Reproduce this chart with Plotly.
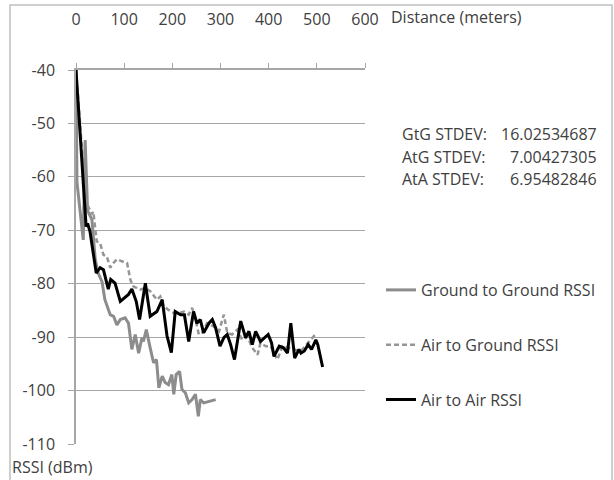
import plotly.graph_objects as go

# ---------------- data ----------------
gtg_dist = [0, 2, 15, 19, 24, 33, 40, 46, 54, 60, 71, 78, 85, 92, 102, 109, 116, 123,
            130, 137, 140, 146, 154, 161, 167, 172, 179, 185, 192, 199, 203, 208, 215,
            220, 227, 234, 241, 248, 254, 258, 265, 290]
gtg_rssi = [-40, -61, -71.8, -53.1, -66.3, -68, -75.5, -78, -79.6, -83, -85.8, -86.1, -87.7,
            -86.7, -86.4, -87.4, -92.3, -89.5, -93, -90.1, -90.8, -88.6, -92, -94.8, -94.2,
            -99.5, -97.3, -98.5, -98.9, -97, -100.7, -97, -96.4, -99.8, -100.4, -102.3,
            -101.7, -100.7, -104.8, -101.7, -102.3, -101.7]

atg_dist = [0, 21, 25, 33, 36, 43, 50, 57, 64, 71, 78, 85, 95, 106, 113, 119, 133, 144, 154,
            168, 175, 182, 192, 203, 213, 224, 234, 241, 248, 255, 262, 272, 286, 297, 307,
            314, 324, 335, 345, 356, 366, 377, 383, 394, 404, 418, 429, 439, 453, 467, 481,
            488, 494, 498]
atg_rssi = [-40, -65, -65.5, -67, -66.5, -72.1, -72.4, -74.6, -74.9, -77, -76.1, -75.4, -75.8,
            -76.1, -79.3, -80.5, -81.1, -80.8, -81.4, -83, -82.4, -84.2, -84.9, -85.5, -85.5,
            -85.2, -85.8, -84.5, -86.7, -89.5, -89.2, -87.4, -88, -88.9, -85.8, -89.2, -89.5,
            -88.6, -90.5, -89.9, -92, -93.3, -91.1, -91.7, -91.7, -94.2, -91.7, -92, -92.3,
            -92.6, -91.1, -90.5, -89.8, -90.1]

ata_dist = [0, 21, 24, 29, 42, 50, 57, 67, 72, 81, 92, 109, 116, 125, 132, 144, 154, 168, 179,
            189, 198, 206, 217, 225, 234, 244, 251, 258, 265, 276, 283, 290, 299, 307, 314,
            321, 329, 342, 352, 359, 366, 373, 383, 392, 399, 406, 411, 422, 431, 439, 446,
            454, 463, 467, 474, 482, 489, 498, 502, 512]
ata_rssi = [-40, -69.3, -68.7, -70.2, -78, -77, -77.4, -81, -79.2, -79.9, -83.3, -82, -81,
            -83.3, -86.7, -79.9, -86.1, -85.2, -83, -89.8, -92.9, -85.2, -85.8, -85.8, -90.8,
            -85.2, -87.4, -86.7, -89.2, -87.4, -86.7, -88.3, -91.7, -90.1, -89.5, -91.4, -94.2,
            -87, -90.1, -88.9, -91.4, -88.9, -90.8, -90.1, -89.5, -91.1, -93.6, -91.7, -92,
            -93, -87.4, -93.9, -92.3, -93, -92.6, -91.4, -92.3, -90.5, -91.4, -95.6]

series_names = ["Ground to Ground RSSI", "Air to Ground RSSI", "Air to Air RSSI"]
x_ticks = [0, 100, 200, 300, 400, 500, 600]
y_ticks = [-40, -50, -60, -70, -80, -90, -100, -110]
stat_labels = ["GtG STDEV:", "AtG STDEV:", "AtA STDEV:"]
stat_values = ["16.02534687", "7.00427305", "6.95482846"]

# ---------------- figure ----------------
FONT = "Open Sans"
FS = 16
TXT = "#404040"
W, H = 614, 480
# screen positions of the plot area
SX0, SX1, SY0, SY1 = 76, 365, 70, 444
ML, MT = SX0, SY0
PW, PH = SX1 - SX0, SY1 - SY0
MR, MB = W - ML - PW, H - MT - PH


def px_x(px):
    return (px - SX0) / PW


def px_y(py):
    return (SY1 - py) / PH


fig = go.Figure()
fig.add_trace(go.Scatter(x=gtg_dist, y=gtg_rssi, mode="lines", name=series_names[0],
                         legendgroup="a", line=dict(color="#8c8c8c", width=3)))
fig.add_trace(go.Scatter(x=atg_dist, y=atg_rssi, mode="lines", name=series_names[1],
                         legendgroup="b", line=dict(color="#959595", width=2.5, dash="5px,3px")))
fig.add_trace(go.Scatter(x=ata_dist, y=ata_rssi, mode="lines", name=series_names[2],
                         legendgroup="c", line=dict(color="#000000", width=3)))

annotations = []
rows_y = [134, 157, 179]
for lab, val, ry in zip(stat_labels, stat_values, rows_y):
    annotations.append(dict(x=px_x(400), y=px_y(ry), xref="paper", yref="paper", text=lab,
                            showarrow=False, xanchor="left", yanchor="middle",
                            font=dict(family=FONT, size=FS, color=TXT)))
    annotations.append(dict(x=px_x(599), y=px_y(ry), xref="paper", yref="paper", text=val,
                            showarrow=False, xanchor="right", yanchor="middle",
                            font=dict(family=FONT, size=FS, color=TXT)))
annotations.append(dict(x=px_x(389), y=px_y(17), xref="paper", yref="paper",
                        text="Distance (meters)", showarrow=False, xanchor="left",
                        yanchor="middle", font=dict(family=FONT, size=FS, color=TXT)))
annotations.append(dict(x=px_x(10), y=px_y(467), xref="paper", yref="paper",
                        text="RSSI (dBm)", showarrow=False, xanchor="left",
                        yanchor="middle", font=dict(family=FONT, size=FS, color=TXT)))

fig.update_layout(
    width=W, height=H,
    margin=dict(l=ML, r=MR, t=MT, b=MB, autoexpand=False),
    paper_bgcolor="white", plot_bgcolor="white",
    font=dict(family=FONT, size=FS, color=TXT),
    showlegend=True,
    legend=dict(x=px_x(381), y=px_y(273), xanchor="left", yanchor="top",
                bgcolor="rgba(0,0,0,0)", tracegroupgap=31,
                font=dict(family=FONT, size=FS, color=TXT)),
    annotations=annotations,
    shapes=[dict(type="rect", xref="paper", yref="paper",
                 x0=px_x(10), x1=px_x(612), y0=px_y(520), y1=px_y(5),
                 line=dict(color="#c0c0c0", width=1.5), fillcolor="rgba(0,0,0,0)",
                 layer="above")],
)
fig.update_xaxes(range=[0, 600], side="top", tickvals=x_ticks,
                 ticktext=[str(v) for v in x_ticks], showgrid=False, automargin=False,
                 zeroline=False, showline=True, linecolor="#a6a6a6", linewidth=1.5,
                 ticks="outside", ticklen=5, tickcolor="#a6a6a6", ticklabelstandoff=32,
                 tickfont=dict(family=FONT, size=FS, color=TXT))
fig.update_yaxes(range=[-110, -40], tickvals=y_ticks, ticktext=[str(v) for v in y_ticks],
                 showgrid=True, gridcolor="#a6a6a6", automargin=False,
                 gridwidth=1, zeroline=False, showline=True, linecolor="#a6a6a6",
                 linewidth=1.5, ticks="outside", ticklen=6, tickcolor="#a6a6a6",
                 ticklabelstandoff=10, tickfont=dict(family=FONT, size=FS, color=TXT))

fig.write_html("out.html", config={"displayModeBar": False},
               post_script="document.body.style.margin='0';document.body.style.overflow='hidden';")
